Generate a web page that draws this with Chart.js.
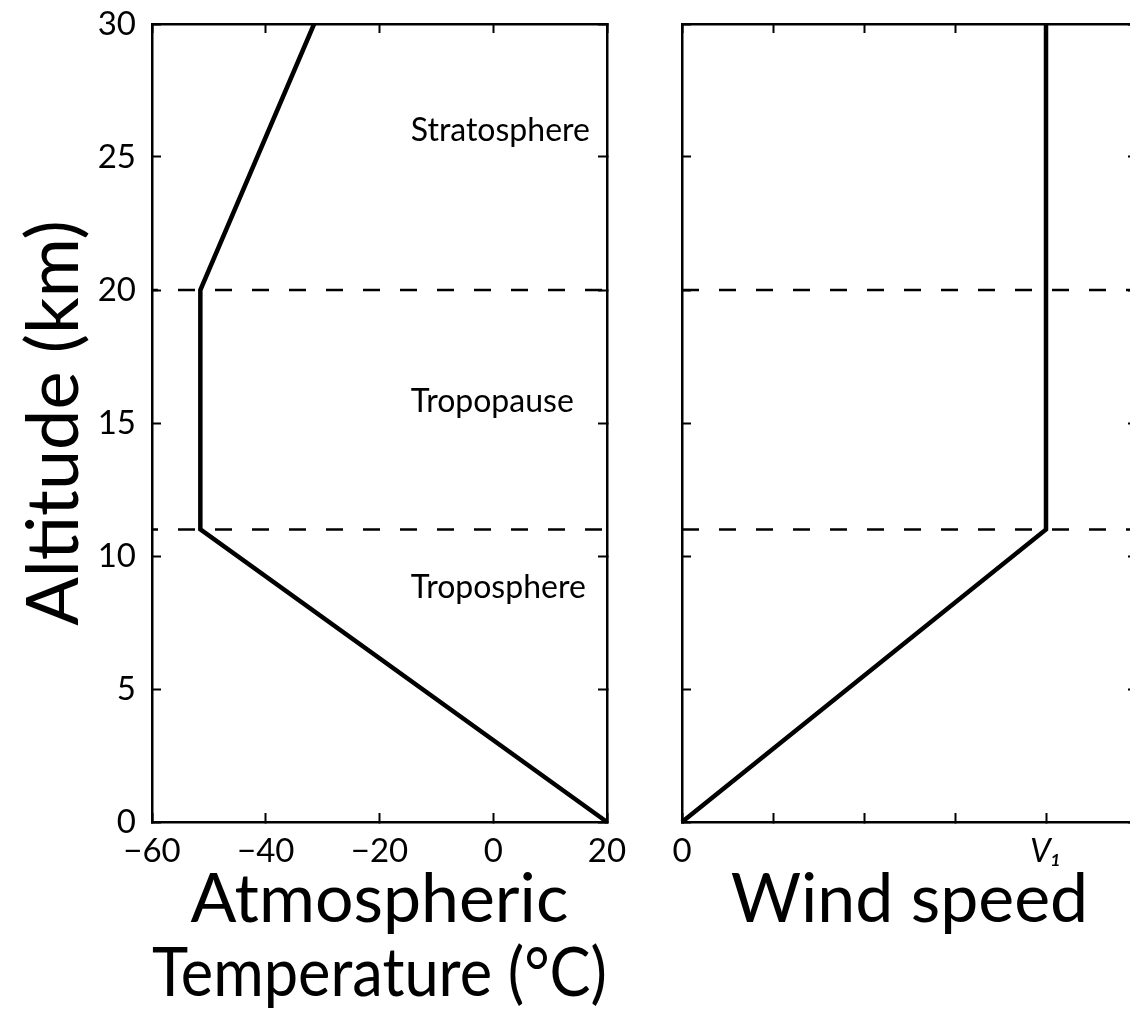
<!DOCTYPE html>
<html>
<head>
<meta charset="utf-8">
<script src="https://cdn.jsdelivr.net/npm/chart.js@4.4.0/dist/chart.umd.min.js"></script>
<style>
  html, body { margin: 0; padding: 0; background: #fff; width: 1130px; height: 1020px; overflow: hidden; }
  #tempChart { position: absolute; left: 0; top: 0; }
  #windChart { position: absolute; left: 640px; top: 0; }
</style>
</head>
<body>
<canvas id="tempChart" width="640" height="1020"></canvas>
<canvas id="windChart" width="560" height="1020"></canvas>
<script>
// standard atmosphere profile, altitude in km
const altitude = [0, 11, 20, 30];
const temperature = [20, -51.5, -51.5, -31.5];
const windSpeed = [0, 4, 4, 4];
const layerTops = [11, 20];
const layerNames = ['Stratosphere', 'Tropopause', 'Troposphere'];
const layerLabelAlt = [26.0, 15.8, 8.8];
const layerLabelTemp = -14.5;

const altRange = [0, 30];
const tempRange = [-60, 20];
const windRange = [0, 5];
const windTickValues = [0, 4];
const windTickLabels = ['0', 'V\u2081'];

const FONT = 'Lato, "DejaVu Sans", sans-serif';
const INK = '#000';

function profile(xs) {
  return altitude.map((a, i) => ({ x: xs[i], y: a }));
}

// dashed horizontal lines at the layer boundaries, spanning the whole x range
function boundaries(range, dashOffset) {
  return layerTops.map(h => ({
    data: [{ x: range[0], y: h }, { x: range[1], y: h }],
    borderColor: INK,
    borderWidth: 2.5,
    borderDash: [17, 20],
    borderDashOffset: dashOffset,
    showLine: true,
    pointRadius: 0
  }));
}

const innerGrid = { drawOnChartArea: false, tickLength: -9, tickWidth: 2, tickColor: INK };
const spine = { color: INK, width: 2.5 };

// fixed axis size, and no extra room for labels hanging past the ends
function fixSize(size) {
  return s => {
    if (s.isHorizontal()) s.height = size; else s.width = size;
    s.paddingTop = s.paddingBottom = s.paddingLeft = s.paddingRight = 0;
  };
}

// extra axes that only carry the box edge and inward tick marks
function tickAxis(pos, range, step) {
  return {
    type: 'linear',
    axis: (pos === 'top' || pos === 'bottom') ? 'x' : 'y',
    position: pos,
    min: range[0],
    max: range[1],
    ticks: { display: false, stepSize: step },
    grid: innerGrid,
    border: spine,
    afterFit: fixSize(0)
  };
}

function lineSet(xs) {
  return { data: profile(xs), borderColor: INK, borderWidth: 4.5, showLine: true, pointRadius: 0, clip: 5 };
}

const minus = v => (v < 0 ? '\u2212' + Math.abs(v) : String(v));

const layerLabels = {
  id: 'layerLabels',
  afterDatasetsDraw(chart) {
    const { ctx, scales } = chart;
    ctx.save();
    ctx.font = '32px ' + FONT;
    ctx.fillStyle = INK;
    ctx.textAlign = 'left';
    ctx.textBaseline = 'middle';
    layerNames.forEach((name, i) => {
      ctx.fillText(name, scales.x.getPixelForValue(layerLabelTemp), scales.y.getPixelForValue(layerLabelAlt[i]));
    });
    ctx.restore();
  }
};

const common = {
  responsive: false,
  animation: false,
  events: [],
  plugins: { legend: { display: false }, tooltip: { enabled: false } }
};

new Chart(document.getElementById('tempChart'), {
  type: 'scatter',
  data: { datasets: [lineSet(temperature), ...boundaries(tempRange, 11)] },
  options: {
    ...common,
    layout: { padding: { top: 24, right: 33, left: 0, bottom: 0 } },
    scales: {
      x: {
        type: 'linear', position: 'bottom', min: tempRange[0], max: tempRange[1],
        ticks: { stepSize: 20, padding: 19, color: INK, font: { family: FONT, size: 33 }, callback: minus },
        grid: innerGrid,
        border: spine,
        title: {
          display: true, text: ['Atmospheric', 'Temperature (\u00b0C)'], color: INK,
          font: { family: FONT, size: 68, lineHeight: 1.09 }, padding: { top: 0, bottom: 9 }
        },
        afterFit: fixSize(198)
      },
      x2: tickAxis('top', tempRange, 20),
      y: {
        type: 'linear', position: 'left', min: altRange[0], max: altRange[1],
        ticks: { stepSize: 5, padding: 25, color: INK, font: { family: FONT, size: 33 } },
        grid: innerGrid,
        border: spine,
        title: {
          display: true, text: 'Altitude (km)', color: INK,
          font: { family: FONT, size: 72, lineHeight: 1 }, padding: { top: 19, bottom: 0 }
        },
        afterFit: fixSize(152)
      },
      y2: tickAxis('right', altRange, 5)
    }
  },
  plugins: [layerLabels]
});

new Chart(document.getElementById('windChart'), {
  type: 'scatter',
  data: { datasets: [lineSet(windSpeed), ...boundaries(windRange, 0)] },
  options: {
    ...common,
    layout: { padding: { top: 24, right: 63, left: 42, bottom: 0 } },
    scales: {
      x: {
        type: 'linear', position: 'bottom', min: windRange[0], max: windRange[1],
        ticks: {
          stepSize: 1, padding: 19, color: INK, autoSkip: false,
          font: c => ({ family: FONT, size: 33, style: (c.tick && c.tick.value === windTickValues[1]) ? 'italic' : 'normal' }),
          callback: v => { const i = windTickValues.indexOf(v); return i < 0 ? '' : windTickLabels[i]; }
        },
        grid: innerGrid,
        border: spine,
        title: {
          display: true, text: 'Wind speed', color: INK,
          font: { family: FONT, size: 68, lineHeight: 1.09 }, padding: { top: 0, bottom: 83 }
        },
        afterFit: fixSize(198)
      },
      x2: tickAxis('top', windRange, 1),
      y: tickAxis('left', altRange, 5),
      y2: tickAxis('right', altRange, 5)
    }
  }
});
</script>
</body>
</html>
